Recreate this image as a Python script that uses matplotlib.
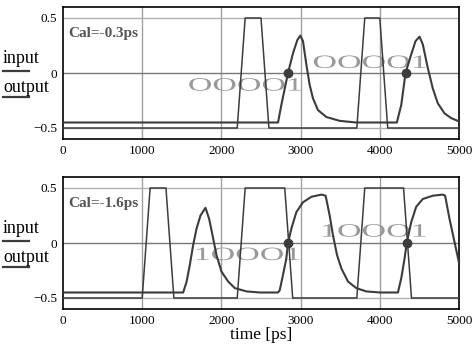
import numpy as np
import matplotlib
matplotlib.use("Agg")
import matplotlib.pyplot as plt
from matplotlib.patheffects import AbstractPathEffect
from matplotlib.transforms import Affine2D
from matplotlib.lines import Line2D

plt.rcParams['font.family'] = ['Liberation Serif', 'DejaVu Serif']

# ---- data ----
top_in_t = [0, 2200, 2300, 2500, 2600, 3710, 3810, 4000, 4100, 5000]
top_in_v = [-0.5, -0.5, 0.5, 0.5, -0.5, -0.5, 0.5, 0.5, -0.5, -0.5]

top_out_t = [0, 2715, 2757, 2841, 2904, 2959, 2997, 3030, 3073, 3114, 3156,
             3219, 3325, 3493, 3703, 4215, 4271, 4325, 4397, 4451, 4502,
             4543, 4606, 4669, 4732, 4817, 4901, 5000]
top_out_v = [-0.45, -0.45, -0.29, 0.0, 0.18, 0.30, 0.34, 0.29, 0.076, -0.107, -0.23,
             -0.337, -0.40, -0.435, -0.45, -0.45, -0.29, 0.0, 0.17, 0.29, 0.33,
             0.26, 0.046, -0.14, -0.275, -0.367, -0.41, -0.44]
top_mark_t = [2841, 4325]

bot_in_t = [0, 1000, 1100, 1300, 1400, 2200, 2300, 2800, 2900, 3710, 3810, 4300, 4400, 5000]
bot_in_v = [-0.5, -0.5, 0.5, 0.5, -0.5, -0.5, 0.5, 0.5, -0.5, -0.5, 0.5, 0.5, -0.5, -0.5]

bot_out_t = [0, 1517, 1560, 1601, 1643, 1686, 1736, 1799, 1845, 1888, 1938, 2001,
             2085, 2169, 2317, 2484, 2715, 2736, 2778, 2820, 2841, 2883, 2946,
             3030, 3136, 3262, 3316, 3367, 3409, 3460, 3514, 3598, 3703, 3829,
             4000, 4229, 4271, 4313, 4340, 4397, 4460, 4543, 4669, 4795, 4825,
             4880, 4943, 5000]
bot_out_v = [-0.45, -0.45, -0.354, -0.20, -0.02, 0.13, 0.25, 0.32, 0.22, 0.07, -0.11, -0.26,
             -0.35, -0.41, -0.44, -0.45, -0.45, -0.43, -0.29, -0.14, 0.0, 0.13, 0.28,
             0.37, 0.42, 0.44, 0.43, 0.25, 0.07, -0.11, -0.23, -0.35, -0.41, -0.44,
             -0.45, -0.45, -0.32, -0.14, 0.0, 0.19, 0.33, 0.40, 0.43, 0.44, 0.43,
             0.22, 0.01, -0.18]
bot_mark_t = [2841, 4340]

cal_labels = ['Cal=-0.3ps', 'Cal=-1.6ps']
bit_labels = [['OOOO1', 'OOOO1'], ['1OOO1', '1OOO1']]
bit_pos = [[(1576, -0.16), (3150, 0.046)], [(1650, -0.155), (3245, 0.058)]]
xticks = [0, 1000, 2000, 3000, 4000, 5000]
yticks = [-0.5, 0, 0.5]


class Wide(AbstractPathEffect):
    # stretch glyphs sideways about the text origin
    def __init__(self, sx):
        super().__init__()
        self.sx = sx

    def draw_path(self, renderer, gc, tpath, affine, rgbFace=None):
        x0 = affine.transform(np.array([0.0, 0.0]))[0]
        st = Affine2D().translate(-x0, 0).scale(self.sx, 1).translate(x0, 0)
        renderer.draw_path(gc, tpath, affine + st, rgbFace)


W, H = 477, 345
fig = plt.figure(figsize=(W / 100, H / 100), dpi=100)

line_c = '#3c3c3c'
panels = [(7, top_in_t, top_in_v, top_out_t, top_out_v, top_mark_t),
          (177, bot_in_t, bot_in_v, bot_out_t, bot_out_v, bot_mark_t)]

for i, (ytop, it, iv, ot, ov, mt) in enumerate(panels):
    ax = fig.add_axes([63 / W, 1 - (ytop + 132) / H, 396 / W, 132 / H])
    ax.set_xlim(0, 5000)
    ax.set_ylim(-0.6, 0.6)
    for xv in xticks[1:-1]:
        ax.axvline(xv, color='#a0a0a0', lw=1, zorder=1)
    ax.axhline(0.5, color='#b0b0b0', lw=1, zorder=1)
    ax.axhline(0, color='#777777', lw=1, zorder=1)
    ax.axhline(-0.5, color='#b0b0b0', lw=1, zorder=1)

    for (bx, by), s in zip(bit_pos[i], bit_labels[i]):
        ax.text(bx, by, s, fontsize=13.6, color='#999999', ha='left', va='baseline',
                zorder=2, path_effects=[Wide(1.8)])

    ax.plot(it, iv, color=line_c, lw=1.1, zorder=3)
    ax.plot(ot, ov, color=line_c, lw=1.5, zorder=3)
    ax.plot(mt, [0] * len(mt), 'o', color=line_c, ms=6, zorder=4)

    ax.text(0.012, 0.773, cal_labels[i], transform=ax.transAxes, fontsize=11,
            fontweight='bold', color='#555555', va='baseline', ha='left', zorder=5)

    ax.set_xticks(xticks)
    ax.set_yticks(yticks)
    ax.set_yticklabels(['\u22120.5', '0', '0.5'])
    ax.tick_params(length=0, labelsize=9.5, pad=4)
    for sp in ax.spines.values():
        sp.set_linewidth(1.2)

    # y label with line samples underneath
    fig.text(3 / W, 1 - (ytop + 56) / H, 'input', fontsize=13, va='baseline', ha='left')
    fig.text(3 / W, 1 - (ytop + 84.5) / H, 'output', fontsize=13, va='baseline', ha='left')
    for uy in (ytop + 63.7, ytop + 90.3):
        fig.add_artist(Line2D([3 / W, 29 / W], [1 - uy / H, 1 - uy / H],
                              color=line_c, lw=1.6, transform=fig.transFigure))

    if i == 1:
        ax.set_xlabel('time [ps]', fontsize=12.5, labelpad=0)

fig.savefig('out.png', dpi=100)
